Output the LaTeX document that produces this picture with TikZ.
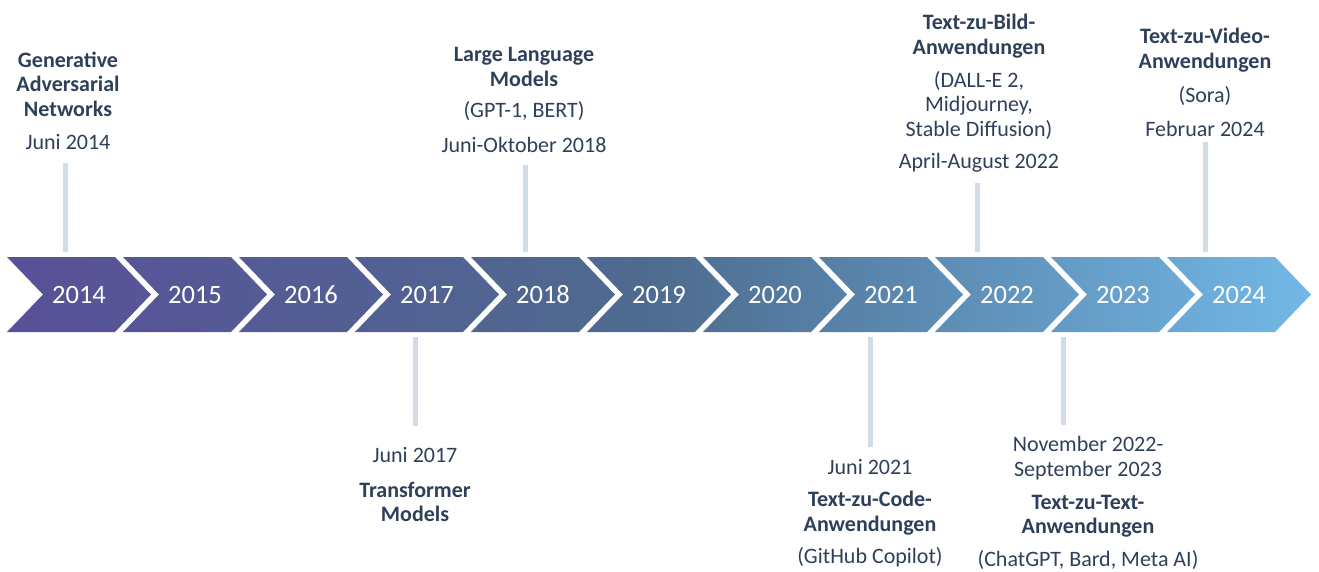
\documentclass[tikz,border=0pt]{standalone}
\usepackage{fontspec}
\setmainfont{Carlito}
\usetikzlibrary{positioning}
\definecolor{txtblue}{RGB}{46,64,89}
\definecolor{stemgray}{RGB}{210,220,230}
\definecolor{chevleft}{RGB}{89,80,152}
\definecolor{chevmid}{RGB}{78,108,143}
\definecolor{chevright}{RGB}{114,184,230}
\tikzset{
  milestone/.style={align=center, text=txtblue, inner sep=0pt,
    font=\fontsize{22}{24.5}\selectfont},
  headline/.style={milestone, font=\fontsize{22}{24.5}\selectfont\bfseries},
  yearlabel/.style={text=white, inner sep=0pt, font=\fontsize{26.5}{30}\selectfont},
  stem/.style={draw=stemgray, line width=5pt}
}

\begin{document}
\begin{tikzpicture}[x=1pt, y=-1pt]
  \useasboundingbox (0,0) rectangle (1319,572);

  % chevron band, one shading over all arrows
  \begin{scope}
    \clip \foreach \i in {0,...,10} {
      (7+116*\i,257) -- ++(108,0) -- ++(36,37.5) -- ++(-36,37.5)
      -- ++(-108,0) -- ++(36,-37.5) -- cycle};
    \shade[left color=chevleft, right color=chevright, middle color=chevmid]
      (7,257) rectangle (1311,332);
  \end{scope}
  \foreach \yr [count=\i from 0] in {2014,...,2024}
    \node[yearlabel] (y\yr) at (79+116*\i,295) {\yr};

  % stems above the band
  \coordinate (s14a) at (65,163);   \coordinate (s14b) at (65,252);
  \coordinate (s18a) at (525,165);  \coordinate (s18b) at (525,252);
  \coordinate (s22a) at (977,183);  \coordinate (s22b) at (977,252);
  \coordinate (s24a) at (1205,142); \coordinate (s24b) at (1205,252);
  % stems below the band
  \coordinate (s17a) at (415,337);  \coordinate (s17b) at (415,426);
  \coordinate (s21a) at (870,337);  \coordinate (s21b) at (870,447);
  \coordinate (s23a) at (1063,337); \coordinate (s23b) at (1063,425);
  \foreach \s in {14,18,22,24,17,21,23}
    \draw[stem] (s\s a) -- (s\s b);

  % 2014
  \node[headline] (h14) at (68,84) {Generative\\Adversarial\\Networks};
  \node[milestone] (d14) at (68,142) {Juni 2014};
  % 2018
  \node[headline] (h18) at (524,67) {Large Language\\Models};
  \node[milestone] (p18) at (524,111) {(GPT-1, BERT)};
  \node[milestone] (d18) at (524,145) {Juni-Oktober 2018};
  % 2022
  \node[headline] (h22) at (979,36) {Text-zu-Bild-\\Anwendungen};
  \node[milestone] (p22) at (979,105) {(DALL-E 2,\\Midjourney,\\Stable Diffusion)};
  \node[milestone] (d22) at (979,163) {April-August 2022};
  % 2024
  \node[headline] (h24) at (1205,50) {Text-zu-Video-\\Anwendungen};
  \node[milestone] (p24) at (1205,96) {(Sora)};
  \node[milestone] (d24) at (1205,129) {Februar 2024};
  % 2017
  \node[milestone] (d17) at (415,455) {Juni 2017};
  \node[headline] (h17) at (415,502) {Transformer\\Models};
  % 2021
  \node[milestone] (d21) at (870,467) {Juni 2021};
  \node[headline] (h21) at (870,513) {Text-zu-Code-\\Anwendungen};
  \node[milestone] (p21) at (870,557) {(GitHub Copilot)};
  % 2023
  \node[milestone] (d23) at (1088,458) {November 2022-\\September 2023};
  \node[headline] (h23) at (1088,516) {Text-zu-Text-\\Anwendungen};
  \node[milestone] (p23) at (1088,560) {(ChatGPT, Bard, Meta AI)};
\end{tikzpicture}
\end{document}
